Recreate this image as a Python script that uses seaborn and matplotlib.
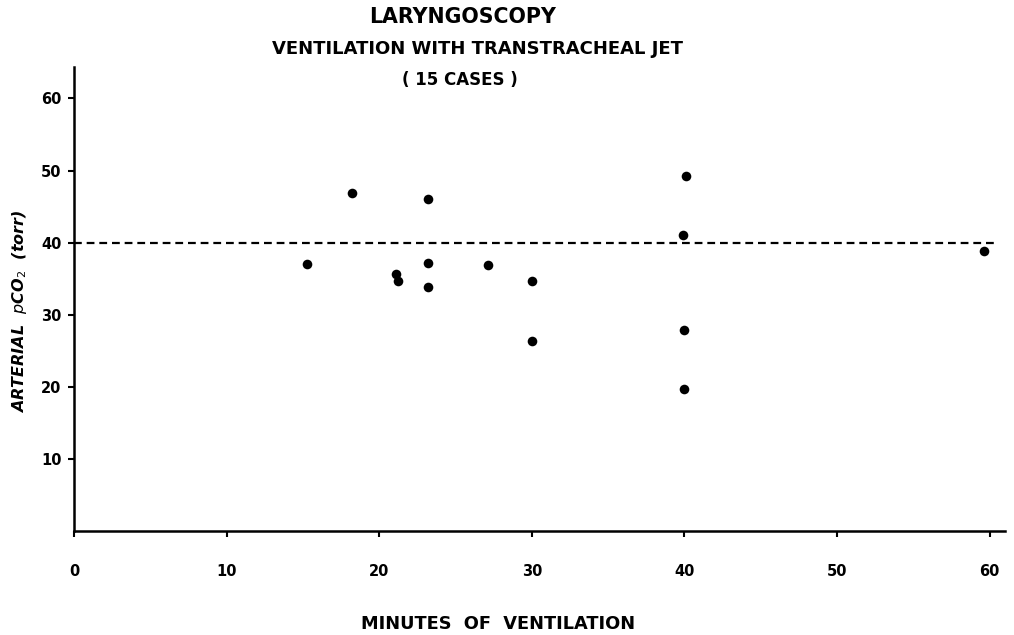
import matplotlib
matplotlib.use("Agg")
import matplotlib.pyplot as plt
import pandas as pd
import seaborn as sns

# minutes of ventilation and arterial pCO2 (torr), 15 cases
minutes = [15.3, 18.2, 21.1, 21.2, 23.2, 23.2, 23.2, 27.1, 30.0, 30.0, 40.1, 39.9, 40.0, 40.0, 59.6]
pco2 = [37.0, 46.9, 35.7, 34.7, 46.1, 37.2, 33.9, 36.9, 34.7, 26.4, 49.2, 41.1, 27.9, 19.7, 38.9]

x_ticks = [0, 10, 20, 30, 40, 50, 60]
y_ticks = [10, 20, 30, 40, 50, 60]
normal_pco2 = 40

df = pd.DataFrame({"minutes": minutes, "pco2": pco2})

sns.set_style("ticks")
plt.rcParams["font.family"] = ["DejaVu Sans"]
plt.rcParams["text.color"] = "black"
plt.rcParams["xtick.color"] = "black"
plt.rcParams["ytick.color"] = "black"

fig = plt.figure(figsize=(10.14, 6.35), dpi=100)
ax = fig.add_axes([0.073, 0.1638, 0.918, 0.73])

ax.hlines(normal_pco2, 0, 60.4, colors="black", linestyles=(0, (3.5, 2.2)), linewidth=1.6)

sns.scatterplot(data=df, x="minutes", y="pco2", ax=ax, color="black", s=48,
                edgecolor="black", linewidth=0, zorder=3)

ax.set_xlim(0, 61)
ax.set_ylim(0, 64.3)
ax.set_xticks(x_ticks)
ax.set_yticks(y_ticks)
ax.set_xticklabels([str(v) for v in x_ticks], fontweight="bold", fontsize=10.5)
ax.set_yticklabels([str(v) for v in y_ticks], fontweight="bold", fontsize=10.5)
ax.tick_params(axis="x", length=4, width=1.5, pad=20)
ax.tick_params(axis="y", length=4, width=1.5, pad=5)

for side in ["top", "right"]:
    ax.spines[side].set_visible(False)
for side in ["left", "bottom"]:
    ax.spines[side].set_linewidth(1.8)
    ax.spines[side].set_color("black")

ax.set_xlabel("")
ax.set_ylabel("")

fig.text(0.491, 0.017, "MINUTES  OF  VENTILATION", ha="center", va="center",
         fontsize=12.8, fontweight="bold")
fig.text(0.019, 0.51, r"ARTERIAL  $\it{p}$CO$_2$  (torr)", rotation=90, ha="center",
         va="center", fontsize=11.5, fontweight="bold", fontstyle="italic")

fig.text(0.456, 0.974, "LARYNGOSCOPY", ha="center", va="center", fontsize=14.8,
         fontweight="bold")
fig.text(0.471, 0.923, "VENTILATION WITH TRANSTRACHEAL JET", ha="center", va="center",
         fontsize=13, fontweight="bold")
fig.text(0.454, 0.874, "( 15 CASES )", ha="center", va="center",
         fontsize=12, fontweight="bold")

fig.savefig("out.png", dpi=100)
